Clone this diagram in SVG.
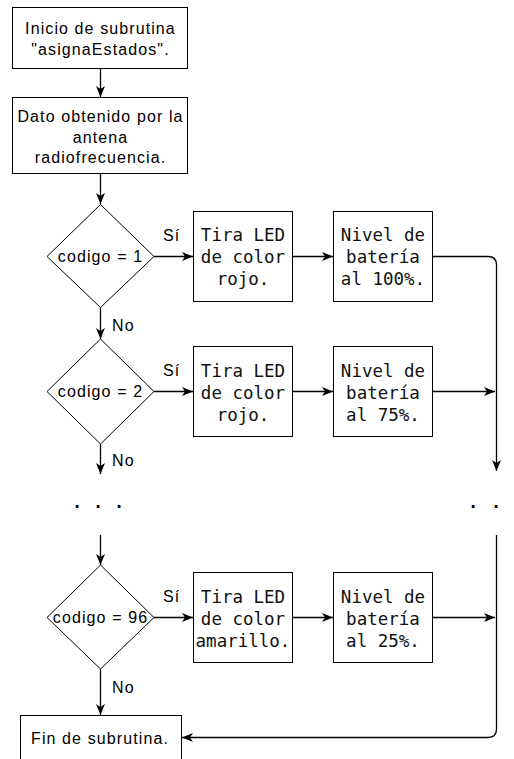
<svg xmlns="http://www.w3.org/2000/svg" width="514" height="759" viewBox="0 0 514 759">
<style>
.box{fill:#fff;stroke:#000;stroke-width:1}
.sans{font-family:"Liberation Sans",Arial,sans-serif;font-size:16px;letter-spacing:1.1px;fill:#000}
.mid{text-anchor:middle}
.mono{font-family:"DejaVu Sans Mono","Liberation Mono",monospace;font-size:17.5px;fill:#111;text-anchor:middle}
.ln{fill:none;stroke:#000;stroke-width:1.3}
.dots{font-family:"DejaVu Sans",sans-serif;font-weight:bold;font-size:15px;text-anchor:middle;fill:#000}
</style>
<defs>
<marker id="arr" markerUnits="userSpaceOnUse" markerWidth="12" markerHeight="10" refX="11" refY="5" orient="auto">
<path d="M0,0.5 L11,5 L0,9.5 L3,5 Z" fill="#000"/>
</marker>
</defs>
<rect width="514" height="759" fill="#fff"/>
<g id="connectors">
<path class="ln" d="M100.5,68.5 V97" marker-end="url(#arr)"/>
<path class="ln" d="M100.5,173.5 V204" marker-end="url(#arr)"/>
<path class="ln" d="M100.5,307.5 V339" marker-end="url(#arr)"/>
<path class="ln" d="M100.5,444 V474" marker-end="url(#arr)"/>
<path class="ln" d="M100.5,535 V565" marker-end="url(#arr)"/>
<path class="ln" d="M100.5,669 V715" marker-end="url(#arr)"/>
<path class="ln" d="M154,256.5 H193" marker-end="url(#arr)"/>
<path class="ln" d="M292.5,256.5 H333" marker-end="url(#arr)"/>
<path class="ln" d="M432.5,256.5 H488 Q496.5,256.5 496.5,265 V471" marker-end="url(#arr)"/>
<path class="ln" d="M154,391.5 H193" marker-end="url(#arr)"/>
<path class="ln" d="M292.5,391.5 H333" marker-end="url(#arr)"/>
<path class="ln" d="M432.5,391.5 H495" marker-end="url(#arr)"/>
<path class="ln" d="M154,617.5 H193" marker-end="url(#arr)"/>
<path class="ln" d="M292.5,617.5 H333" marker-end="url(#arr)"/>
<path class="ln" d="M432.5,617.5 H495" marker-end="url(#arr)"/>
<path class="ln" d="M496.5,535 V729 Q496.5,737.5 488,737.5 H182" marker-end="url(#arr)"/>
<text class="sans" x="163" y="241">Sí</text>
<text class="sans" x="163" y="376">Sí</text>
<text class="sans" x="163" y="601.5">Sí</text>
<text class="sans" x="112" y="331">No</text>
<text class="sans" x="112" y="466">No</text>
<text class="sans" x="112" y="693">No</text>
<text class="dots" x="77 98 119" y="508">...</text>
<text class="dots" x="473 496" y="508">..</text>
</g>
<g id="inicio">
<rect class="box" x="12.5" y="7.5" width="175" height="61"/>
<text class="sans mid" x="100.5" y="34">Inicio de subrutina</text>
<text class="sans mid" x="100.5" y="55">"asignaEstados".</text>
</g>
<g id="dato">
<rect class="box" x="12.5" y="97.5" width="175" height="76"/>
<text class="sans mid" x="100.5" y="122">Dato obtenido por la</text>
<text class="sans mid" x="100.5" y="142.5">antena</text>
<text class="sans mid" x="100.5" y="163">radiofrecuencia.</text>
</g>
<g id="cond1">
<polygon class="box" points="100.5,204.5 154,256.5 100.5,307.5 47,256.5"/>
<text class="sans mid" x="100.5" y="261.5">codigo = 1</text>
</g>
<g id="led1">
<rect class="box" x="193.5" y="211.5" width="99" height="90"/>
<text class="mono" x="243" y="241">Tira LED</text>
<text class="mono" x="243" y="263">de color</text>
<text class="mono" x="243" y="285">rojo.</text>
</g>
<g id="bat1">
<rect class="box" x="333.5" y="211.5" width="99" height="90"/>
<text class="mono" x="383" y="241">Nivel de</text>
<text class="mono" x="383" y="263">batería</text>
<text class="mono" x="383" y="285">al 100%.</text>
</g>
<g id="cond2">
<polygon class="box" points="100.5,339 154,391.5 100.5,444 47,391.5"/>
<text class="sans mid" x="100.5" y="397">codigo = 2</text>
</g>
<g id="led2">
<rect class="box" x="193.5" y="346.5" width="99" height="90"/>
<text class="mono" x="243" y="376.5">Tira LED</text>
<text class="mono" x="243" y="398.5">de color</text>
<text class="mono" x="243" y="420.5">rojo.</text>
</g>
<g id="bat2">
<rect class="box" x="333.5" y="346.5" width="99" height="90"/>
<text class="mono" x="383" y="376.5">Nivel de</text>
<text class="mono" x="383" y="398.5">batería</text>
<text class="mono" x="383" y="420.5">al 75%.</text>
</g>
<g id="cond96">
<polygon class="box" points="100.5,565 154,617.5 100.5,669 47,617.5"/>
<text class="sans mid" x="100.5" y="623">codigo = 96</text>
</g>
<g id="led96">
<rect class="box" x="193.5" y="572.5" width="99" height="90"/>
<text class="mono" x="243" y="602.5">Tira LED</text>
<text class="mono" x="243" y="624.5">de color</text>
<text class="mono" x="243" y="646.5">amarillo.</text>
</g>
<g id="bat96">
<rect class="box" x="333.5" y="572.5" width="99" height="90"/>
<text class="mono" x="383" y="602.5">Nivel de</text>
<text class="mono" x="383" y="624.5">batería</text>
<text class="mono" x="383" y="646.5">al 25%.</text>
</g>
<g id="fin">
<rect class="box" x="20.5" y="715.5" width="161" height="60"/>
<text class="sans mid" x="100" y="744">Fin de subrutina.</text>
</g>
</svg>
